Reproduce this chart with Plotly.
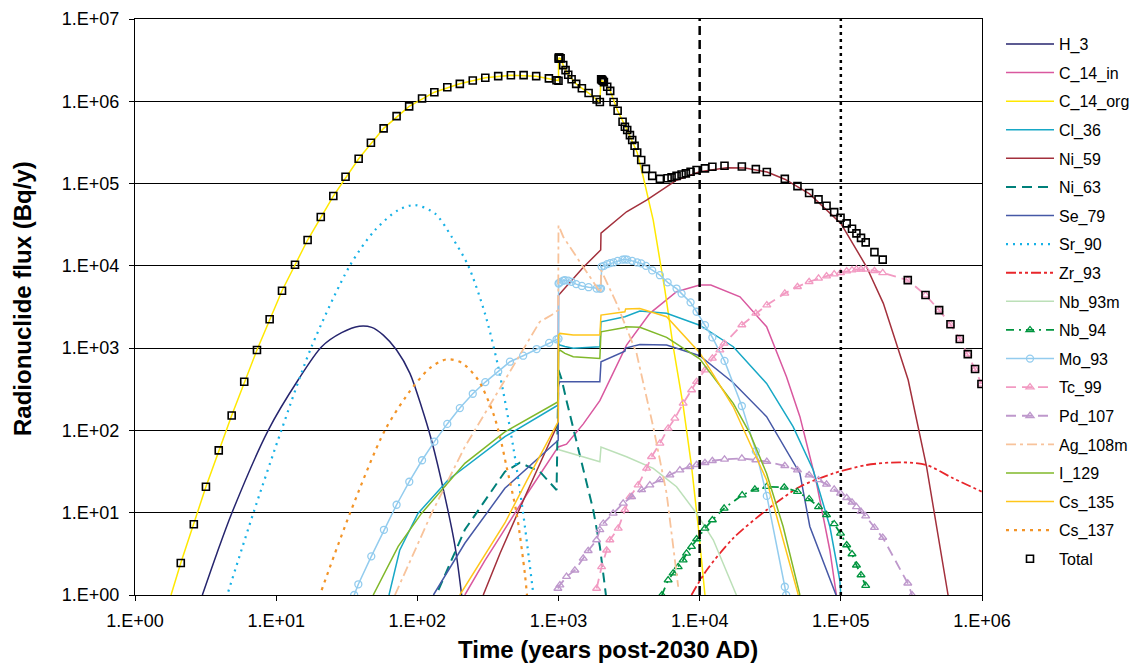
import plotly.graph_objects as go

# ---------------- data (time in years, flux in Bq/y) ----------------
x_tickvals = [1, 10, 100, 1000, 1e4, 1e5, 1e6]
x_ticktext = ["1.E+00", "1.E+01", "1.E+02", "1.E+03", "1.E+04", "1.E+05", "1.E+06"]
y_tickvals = [1, 10, 100, 1000, 1e4, 1e5, 1e6, 1e7]
y_ticktext = ["1.E+00", "1.E+01", "1.E+02", "1.E+03", "1.E+04", "1.E+05", "1.E+06", "1.E+07"]

t_H_3 = [3.0, 3.8, 4.84, 8.8, 14.3, 21, 29.1, 38.8, 47.5, 57.4, 71.3, 88.6, 107, 126, 157, 185, 206]
v_H_3 = [1.0, 3.2, 9.8, 101, 410, 1040, 1540, 1850, 1790, 1440, 948, 494, 194, 76, 15.6, 3.9, 1.0]

t_C_14_in = [217, 300, 385, 600, 995, 1140, 1500, 1963, 3034, 4437, 6860, 1.0e4, 1.2e4, 1.93e4, 2.98e4, 4.12e4, 5.13e4, 6.73e4, 8.36e4, 9.3e4]
v_C_14_in = [1.0, 2.6, 5.1, 17, 63, 68, 120, 230, 1090, 2650, 4850, 5850, 5850, 4200, 1820, 449, 147, 22.8, 3.5, 1.0]

t_C_14_org = [1.8, 2.11, 3.18, 4.84, 7.31, 11.0, 16.7, 25.4, 38.4, 57.7, 87.5, 132, 200, 303, 460, 695, 968, 1000,
              1001, 1012, 1035, 1080, 1172, 1334, 1634, 1963, 2000, 2097, 2324, 2623, 3067, 3609, 3981, 4688,
              5082, 5673, 6486, 7638, 8770, 9770, 1.09e4]
v_C_14_org = [1.0, 2.45, 20.7, 152, 948, 4990, 2.06e4, 7.05e4, 2.00e5, 4.69e5, 8.67e5, 1.29e6, 1.63e6, 1.93e6,
              2.07e6, 2.02e6, 1.80e6, 1.78e6, 3.2e6, 3.35e6, 3.3e6, 2.75e6, 2.10e6, 1.63e6, 1.26e6, 9.8e5,
              1.82e6, 1.70e6, 1.34e6, 7.67e5, 4.47e5, 2.39e5, 1.21e5, 3.6e4, 1.56e4, 5.08e3, 1.06e3, 200, 36, 6.8, 1.0]

t_Cl_36 = [63, 75, 101, 165, 417, 995, 1000, 1023, 1110, 1271, 1963, 2000, 2953, 3770, 5830, 1.0e4, 1.73e4,
           2.98e4, 4.59e4, 6.37e4, 8.36e4, 9.84e4, 1.0e5]
v_Cl_36 = [1.0, 3.5, 9.8, 25, 84, 204, 1140, 1090, 1050, 995, 1040, 2090, 2410, 2830, 2650, 1900, 1040, 373,
           111, 33, 6.8, 1.5, 1.0]

t_Ni_59 = [293, 385, 600, 995, 1000, 1500, 1990, 2000, 3034, 4207, 6860, 1.0e4, 1.55e4, 2.1e4, 3.0e4, 4.01e4,
           6.0e4, 1.0e5, 1.52e5, 2.0e5, 3.0e5, 4.05e5, 5.75e5]
v_Ni_59 = [1.0, 3.2, 18, 122, 4400, 9.6e3, 1.56e4, 2.5e4, 4.54e4, 6.3e4, 1.10e5, 1.39e5, 1.56e5, 1.55e5, 1.38e5,
           1.13e5, 7.5e4, 3.28e4, 9.75e3, 3.5e3, 410, 36, 1.0]

t_Ni_63 = [141, 217, 417, 533, 738, 969, 1000, 1052, 1140, 1306, 1538, 1762, 1963, 2100, 2167]
v_Ni_63 = [1.15, 6.2, 31.5, 40.5, 31.5, 18.9, 542, 420, 230, 90, 30, 10.8, 3.9, 1.6, 1.0]

t_Se_79 = [130, 217, 417, 995, 1000, 1023, 1963, 2000, 2953, 2990, 3770, 5830, 1.0e4, 1.73e4, 2.98e4, 5.13e4,
           6.03e4, 9.25e4]
v_Se_79 = [1.0, 4.25, 19.8, 76, 356, 391, 391, 684, 920, 1000, 1110, 1090, 810, 380, 147, 30, 6.8, 1.0]

t_Sr_90 = [4.58, 6.88, 10.9, 17.8, 33.3, 50.1, 73.2, 96.1, 133, 175, 229, 301, 374, 478, 562, 662]
v_Sr_90 = [1.1, 9.8, 101, 1040, 1.01e4, 2.72e4, 4.76e4, 5.48e4, 4.35e4, 2.26e4, 1.01e4, 2650, 594, 63, 9.8, 1.05]

t_Zr_93 = [8750, 1.12e4, 1.73e4, 2.98e4, 5.13e4, 8.83e4, 1.52e5, 2.62e5, 4.05e5, 6.24e5, 1.0e6]
v_Zr_93 = [1.0, 2.0, 4.9, 10.8, 20.7, 30, 38, 41, 38, 26.2, 18]

t_Nb_93m = [1000, 1023, 1963, 2000, 3034, 4688, 6860, 9509, 1.25e4, 1.5e4, 1.82e4]
v_Nb_93m = [60, 57.8, 41.7, 63, 47.9, 34.6, 20.7, 9.8, 4.66, 2.2, 1.0]

t_Nb_94 = [5400, 5980, 6486, 7047, 7638, 8075, 8750, 9509, 1.09e4, 1.23e4, 1.49e4, 2.0e4, 2.46e4, 2.98e4, 3.97e4,
           4.93e4, 5.96e4, 6.95e4, 7.92e4, 8.97e4, 9.95e4, 1.10e5, 1.20e5, 1.29e5, 1.39e5, 1.50e5]
v_Nb_94 = [1.0, 1.52, 1.84, 2.2, 2.66, 3.2, 3.87, 4.79, 6.46, 8.15, 11.3, 16.4, 19.2, 20.7, 20.4, 18, 14.7, 11.8,
           9.4, 7.3, 5.6, 4.05, 3.15, 2.3, 1.75, 1.3]

t_Mo_93 = [35.7, 38.2, 47.2, 58, 71.3, 87.7, 108, 132, 163, 200, 247, 303, 374, 453, 562, 700, 859, 969, 1000,
           1001, 1012, 1035, 1080, 1110, 1172, 1238, 1334, 1464, 1634, 1862, 1963, 2000, 2020, 2097, 2213, 2324,
           2456, 2623, 2844, 2953, 3067, 3327, 3609, 3854, 4159, 4613, 5228, 5929, 6860, 7447, 8623, 9509,
           1.09e4, 1.23e4, 1.50e4, 1.99e4, 2.50e4, 2.99e4, 4.01e4, 4.1e4]
v_Mo_93 = [1.0, 1.35, 2.95, 6.2, 12.5, 23.8, 43.4, 73, 120, 187, 279, 387, 517, 684, 809, 975, 1160, 1280, 1300,
           6100, 6200, 6400, 6600, 6700, 6600, 6400, 6000, 5700, 5500, 5300, 5300, 5300, 9800, 1.0e4, 1.05e4,
           1.08e4, 1.1e4, 1.15e4, 1.19e4, 1.2e4, 1.19e4, 1.15e4, 1.1e4, 1.07e4, 1.0e4, 8800, 7700, 6300, 5300,
           4600, 3600, 2770, 1900, 1350, 700, 198, 56, 16, 1.26, 1.0]

t_Tc_99 = [1862, 2020, 2193, 2312, 2649, 2953, 3206, 3667, 4207, 4560, 5228, 5980, 6670, 7638, 8770, 9509,
           1.09e4, 1.23e4, 1.39e4, 1.49e4, 1.99e4, 2.50e4, 2.99e4, 4.01e4, 4.93e4, 5.96e4, 6.95e4, 7.92e4,
           8.97e4, 9.95e4, 1.10e5, 1.20e5, 1.29e5, 1.39e5, 1.50e5, 1.73e5, 1.98e5, 2.98e5, 3.98e5, 4.97e5,
           5.98e5, 6.96e5, 7.93e5, 8.93e5, 9.91e5]
v_Tc_99 = [1.2, 2.2, 3.5, 4.66, 6.46, 10.8, 15.6, 21.7, 34.6, 47.9, 69.7, 106, 140, 213, 310, 391, 542, 751, 948,
           1140, 1910, 2650, 3340, 4630, 5570, 6410, 7050, 7520, 7950, 8240, 8650, 8890, 9060, 9060, 9060, 8720,
           8240, 6710, 4420, 2900, 1950, 1290, 847, 557, 366]

t_Pd_107 = [990, 1023, 1140, 1306, 1497, 1623, 1862, 1963, 2075, 2439, 2871, 3296, 3880, 4437, 5228, 6152, 7244,
            8511, 9509, 1.09e4, 1.23e4, 1.50e4, 1.99e4, 2.50e4, 2.99e4, 4.01e4, 4.93e4, 5.96e4, 6.95e4, 7.92e4,
            8.97e4, 9.95e4, 1.10e5, 1.20e5, 1.29e5, 1.39e5, 1.50e5, 1.73e5, 1.98e5, 2.98e5, 3.2e5]
v_Pd_107 = [1.2, 1.32, 1.67, 2.0, 2.79, 3.45, 4.66, 6.2, 7.4, 9.8, 13, 15.6, 18.9, 21.7, 25, 28.7, 33, 36.2, 38.3,
            40.5, 42.8, 44.5, 45.8, 43.7, 41.7, 37.2, 33, 28.7, 25, 22.1, 19.2, 17.2, 15.2, 13.4, 11.8, 10.3, 9.1,
            6.6, 5.0, 1.39, 1.0]

t_Ag_108m = [69.4, 126, 217, 417, 736, 893, 995, 1000, 1080, 1493, 1990, 2000, 2579, 3573, 4688, 5830, 7047]
v_Ag_108m = [1.0, 9.8, 63, 410, 2090, 2520, 2900, 3.1e4, 2.26e4, 9.75e3, 4.7e3, 8.9e3, 3.5e3, 865, 111, 17.2, 1.26]

t_I_129 = [48.7, 73.2, 107, 217, 417, 995, 1000, 1023, 1110, 1271, 1963, 2000, 2953, 2990, 3770, 5830, 1.0e4,
           1.73e4, 2.27e4, 2.98e4, 3.9e4, 5.13e4]
v_I_129 = [1.0, 3.9, 9.8, 39.8, 96, 223, 904, 948, 865, 787, 751, 1580, 1780, 1820, 1790, 1350, 740, 213, 92, 30,
           6.8, 1.0]

t_Cs_135 = [200, 300, 417, 600, 995, 1000, 1023, 1271, 1963, 2000, 2953, 2990, 3770, 5830, 1.0e4, 1.73e4,
            2.98e4, 5.0e4]
v_Cs_135 = [1.0, 3.0, 7.5, 25, 128, 1440, 1510, 1440, 1440, 2520, 2770, 3000, 3040, 2410, 880, 194, 25, 1.0]

t_Cs_137 = [21, 33.3, 59, 93.5, 126, 161, 206, 270, 345, 385, 429, 505, 578, 598]
v_Cs_137 = [1.15, 9.8, 101, 340, 594, 731, 665, 410, 161, 84, 36, 9.8, 1.8, 1.0]

t_Total = [2.11, 2.61, 3.18, 3.92, 4.84, 5.94, 7.31, 8.99, 11.0, 13.6, 16.7, 20.7, 25.4, 31.0, 38.4, 46.9, 57.7,
           71.3, 87.5, 108, 132, 163, 200, 247, 303, 374, 460, 566, 695, 855, 968, 1000, 1003, 1006, 1012, 1035,
           1080, 1122, 1172, 1238, 1334, 1464, 1634, 1862, 1963, 2005, 2030, 2060, 2097, 2213, 2324, 2456, 2623,
           2844, 2953, 3067, 3206, 3327, 3459, 3609, 3854, 4159, 4613, 5228, 5929, 6324, 6860, 7447, 7985, 8623,
           9509, 1.09e4, 1.23e4, 1.50e4, 1.99e4, 2.50e4, 2.99e4, 4.01e4, 4.93e4, 5.96e4, 6.95e4, 7.92e4, 8.97e4,
           9.95e4, 1.10e5, 1.20e5, 1.29e5, 1.39e5, 1.50e5, 1.73e5, 1.98e5, 2.98e5, 3.98e5, 4.97e5, 5.98e5,
           6.96e5, 7.93e5, 8.93e5, 9.91e5]
v_Total = [2.45, 7.23, 20.7, 57.3, 152, 391, 948, 2240, 4990, 1.03e4, 2.06e4, 3.92e4, 7.05e4, 1.21e5, 2.00e5,
           3.13e5, 4.69e5, 6.61e5, 8.67e5, 1.08e6, 1.29e6, 1.48e6, 1.63e6, 1.79e6, 1.93e6, 2.02e6, 2.07e6, 2.08e6,
           2.02e6, 1.90e6, 1.80e6, 1.78e6, 3.3e6, 3.4e6, 3.41e6, 3.32e6, 2.75e6, 2.39e6, 2.10e6, 1.85e6, 1.63e6,
           1.44e6, 1.26e6, 1.05e6, 9.8e5, 1.85e6, 1.82e6, 1.78e6, 1.71e6, 1.50e6, 1.34e6, 9.8e5, 7.67e5, 5.64e5,
           4.90e5, 4.47e5, 3.88e5, 3.38e5, 2.88e5, 2.39e5, 1.93e5, 1.51e5, 1.24e5, 1.14e5, 1.16e5, 1.19e5, 1.24e5,
           1.29e5, 1.33e5, 1.39e5, 1.46e5, 1.53e5, 1.60e5, 1.65e5, 1.61e5, 1.50e5, 1.38e5, 1.14e5, 9.3e4, 7.67e4,
           6.43e4, 5.37e4, 4.50e4, 3.84e4, 3.28e4, 2.82e4, 2.48e4, 2.19e4, 1.93e4, 1.47e4, 1.19e4, 6.71e3,
           4.42e3, 2.90e3, 1.95e3, 1.29e3, 847, 557, 366]

ref_times = [1e4, 1e5]
y_span = [1, 1e7]

# ---------------- figure ----------------
FONT = "Arial, Liberation Sans, sans-serif"
fig = go.Figure()


def add(name, t, v, color, dash="solid", width=1.5, symbol=None, msize=7, smooth=False):
    line = dict(color=color, width=width, dash=dash)
    if smooth:
        line["shape"] = "spline"
        line["smoothing"] = 0.8
    kw = dict(x=t, y=v, name=name, legendgroup=name, line=line)
    if symbol:
        kw["mode"] = "lines+markers"
        kw["marker"] = dict(symbol=symbol, size=msize, color=color,
                            line=dict(color=color, width=1.3))
    else:
        kw["mode"] = "lines"
    fig.add_trace(go.Scatter(**kw))


add("H_3", t_H_3, v_H_3, "#26256E", smooth=True)
add("C_14_in", t_C_14_in, v_C_14_in, "#D9589F")
add("C_14_org", t_C_14_org, v_C_14_org, "#FFE800")
add("Cl_36", t_Cl_36, v_Cl_36, "#17A8C6")
add("Ni_59", t_Ni_59, v_Ni_59, "#A3303C")
add("Ni_63", t_Ni_63, v_Ni_63, "#00807A", dash="10px,6px", width=2)
add("Se_79", t_Se_79, v_Se_79, "#4658A6")
add("Sr_90", t_Sr_90, v_Sr_90, "#16B1E6", dash="2px,5px", width=2.2, smooth=True)
add("Zr_93", t_Zr_93, v_Zr_93, "#E8262B", dash="10px,3px,3px,3px,3px,3px", width=1.8, smooth=True)
add("Nb_93m", t_Nb_93m, v_Nb_93m, "#BCE0B8")
add("Nb_94", t_Nb_94, v_Nb_94, "#00953F", dash="8px,5px,2px,5px", width=1.8, symbol="triangle-up-open")
add("Mo_93", t_Mo_93, v_Mo_93, "#93CCEE", symbol="circle-open", msize=7)
add("Tc_99", t_Tc_99, v_Tc_99, "#F29AC2", dash="10px,6px", width=1.8, symbol="triangle-up-open")
add("Pd_107", t_Pd_107, v_Pd_107, "#BE98CC", dash="10px,6px", width=1.8, symbol="triangle-up-open")
add("Ag_108m", t_Ag_108m, v_Ag_108m, "#F8C39B", dash="10px,4px,3px,4px", width=1.8)
add("I_129", t_I_129, v_I_129, "#80B82A")
add("Cs_135", t_Cs_135, v_Cs_135, "#FFC61A")
add("Cs_137", t_Cs_137, v_Cs_137, "#F39427", dash="3px,5px", width=2.2, smooth=True)

# reference lines at 1e4 (dashed) and 1e5 (dotted)
fig.add_trace(go.Scatter(x=[ref_times[0]] * 2, y=y_span, mode="lines", showlegend=False, hoverinfo="skip",
                         line=dict(color="black", width=2.5, dash="9px,5px")))
fig.add_trace(go.Scatter(x=[ref_times[1]] * 2, y=y_span, mode="lines", showlegend=False, hoverinfo="skip",
                         line=dict(color="black", width=2.5, dash="3px,4px")))

fig.add_trace(go.Scatter(x=t_Total, y=v_Total, name="Total", legendgroup="Total", mode="markers",
                         marker=dict(symbol="square-open", size=7, color="black",
                                     line=dict(color="black", width=1.6))))

L, R, T, B = 135, 155, 19, 71
W, H = 1137, 666
pw, ph = W - L - R, H - T - B

fig.update_layout(
    width=W, height=H,
    margin=dict(l=L, r=R, t=T, b=B, pad=0, autoexpand=False),
    paper_bgcolor="white", plot_bgcolor="white",
    font=dict(family=FONT, color="black", size=16),
    showlegend=True,
    legend=dict(x=(1001 - L) / pw, xanchor="left", y=0.986,
                yanchor="top", font=dict(size=16, family=FONT, color="black"),
                traceorder="grouped", tracegroupgap=4.8, itemwidth=48,
                bgcolor="rgba(0,0,0,0)", borderwidth=0),
    xaxis=dict(type="log", range=[0, 6], tickvals=x_tickvals, ticktext=x_ticktext,
               showgrid=False, zeroline=False, showline=True, linecolor="black", linewidth=1.2,
               mirror=True, ticks="outside", ticklen=5, tickcolor="black",
               tickfont=dict(size=18, family=FONT, color="black"), ticklabelstandoff=4),
    yaxis=dict(type="log", range=[0, 7], tickvals=y_tickvals, ticktext=y_ticktext,
               showgrid=True, gridcolor="black", gridwidth=1, zeroline=False,
               showline=True, linecolor="black", linewidth=1.2, mirror=True,
               ticks="outside", ticklen=5, tickcolor="black",
               tickfont=dict(size=18, family=FONT, color="black"), ticklabelstandoff=6),
    annotations=[
        dict(text="<b>Time (years post-2030 AD)</b>", xref="paper", yref="paper",
             x=(607.5 - L) / pw, y=(H - B - 649) / ph, xanchor="center", yanchor="middle",
             showarrow=False, font=dict(size=24, family=FONT, color="black")),
        dict(text="<b>Radionuclide flux (Bq/y)</b>", xref="paper", yref="paper",
             x=(22 - L) / pw, y=(H - B - 298) / ph, xanchor="center", yanchor="middle",
             textangle=-90, showarrow=False, font=dict(size=24, family=FONT, color="black")),
    ],
)

fig.write_html("out.html")
